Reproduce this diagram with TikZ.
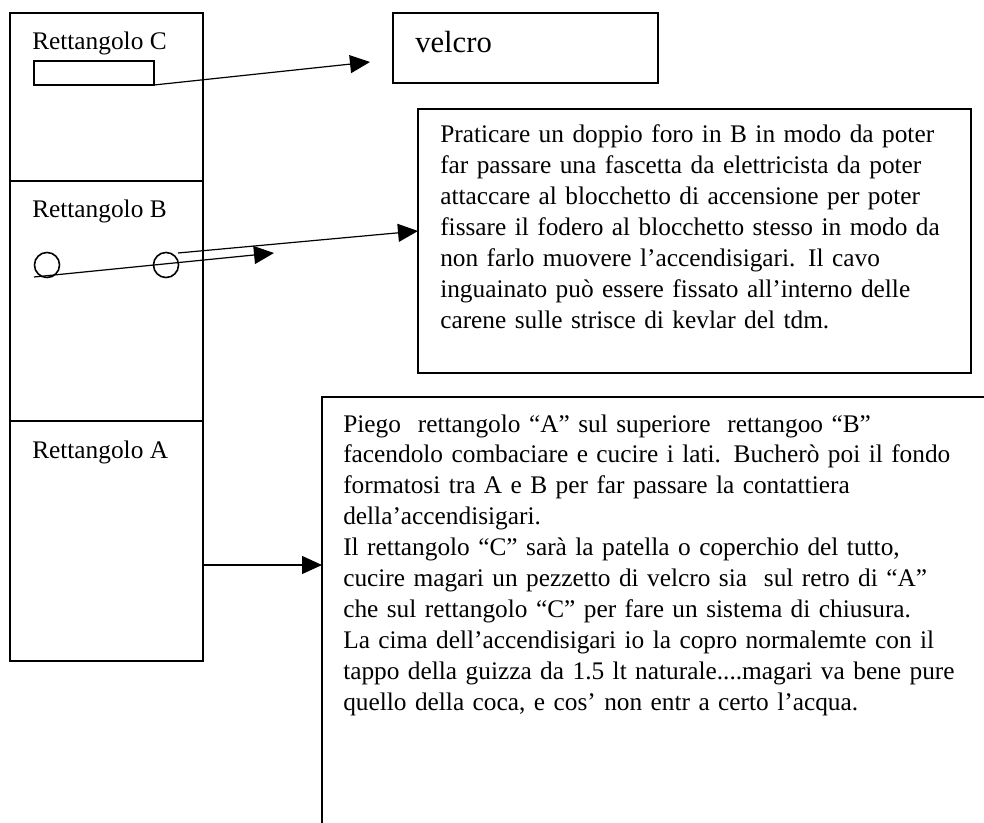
\documentclass[tikz,border=0pt]{standalone}
\usepackage{fontspec}
\setmainfont[Ligatures=NoCommon]{Liberation Serif}
\usetikzlibrary{arrows.meta}

\tikzset{
  box/.style={line width=1.2pt},
  conn/.style={line width=0.9pt,-{Triangle[length=15pt,width=13.5pt]}},
  lab/.style={anchor=base west,inner sep=0pt,font=\fontsize{19pt}{23.2pt}\selectfont},
  note/.style={lab,text width=#1,align=left}
}

\begin{document}
\begin{tikzpicture}[x=0.75pt,y=-0.75pt]
  \useasboundingbox (0,0) rectangle (984,823);

  % le tre strisce
  \draw[box] (10,13) rectangle (203,181);
  \draw[box] (10,181) rectangle (203,421);
  \draw[box] (10,421) rectangle (203,661);
  \node[lab] (labC) at (32,50) {Rettangolo C};
  \node[lab] (labB) at (32,218) {Rettangolo B};
  \node[lab] (labA) at (32,458) {Rettangolo A};

  % pezzetto di velcro e fori
  \draw[box] (34,61) rectangle (154,85);
  \draw[box] (47,265) circle[radius=9.4pt];
  \draw[box] (166,265) circle[radius=9.4pt];

  % riquadri di testo
  \draw[box] (393,13) rectangle (658,83);
  \node[lab,font=\fontsize{23pt}{27pt}\selectfont] (velcro) at (415,53) {velcro};

  \draw[box] (418,109) rectangle (971,373);
  \node[note=420pt] (notaB) at (440,143) {%
    Praticare un doppio foro in B in modo da poter\\
    far passare una fascetta da elettricista da poter\\
    attaccare al blocchetto di accensione per poter\\
    fissare il fodero al blocchetto stesso in modo da\\
    non farlo muovere l’accendisigari. Il cavo\\
    inguainato può essere fissato all’interno delle\\
    carene sulle strisce di kevlar del tdm.};

  \draw[box] (322,823) -- (322,397) -- (984,397);
  \node[note=500pt] (notaA) at (343,432) {%
    Piego~ rettangolo “A” sul superiore~ rettangoo “B”\\
    facendolo combaciare e cucire i lati. Bucherò poi il fondo\\
    formatosi tra A e B per far passare la contattiera\\
    della’accendisigari.\\
    Il rettangolo “C” sarà la patella o coperchio del tutto,\\
    cucire magari un pezzetto di velcro sia~ sul retro di “A”\\
    che sul rettangolo “C” per fare un sistema di chiusura.\\
    La cima dell’accendisigari io la copro normalemte con il\\
    tappo della guizza da 1.5 lt naturale....magari va bene pure\\
    quello della coca, e cos’ non entr a certo l’acqua.};

  % frecce
  \coordinate (cTail) at (154,85);
  \coordinate (cHead) at (370,62);
  \coordinate (bTail1) at (34,277);
  \coordinate (bHead1) at (274,253);
  \coordinate (bTail2) at (178,253);
  \coordinate (bHead2) at (418,231);
  \coordinate (aTail) at (203,565);
  \coordinate (aHead) at (322,565);

  \draw[conn] (cTail) -- (cHead);
  \draw[conn] (bTail1) -- (bHead1);
  \draw[conn] (bTail2) -- (bHead2);
  \draw[conn] (aTail) -- (aHead);
\end{tikzpicture}
\end{document}
